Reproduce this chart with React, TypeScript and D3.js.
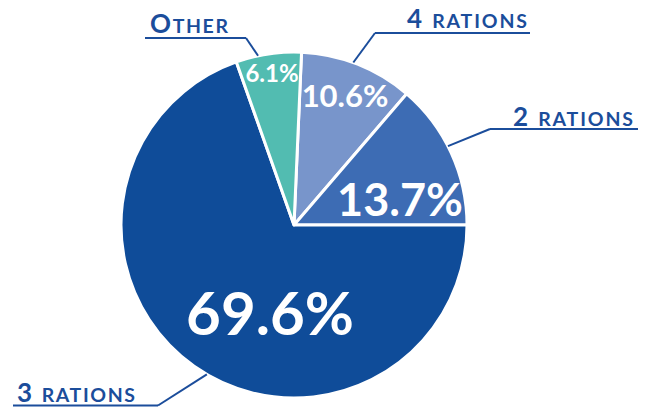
import React, { useRef, useEffect } from 'react'
import * as d3 from 'd3'

// slice order as drawn clockwise from just right of 12 o'clock
const categories = ['4 rations', '2 rations', '3 rations', 'Other']
const values = [10.6, 13.7, 69.6, 6.1]
const colors = ['#7895cb', '#3d6cb4', '#0f4c99', '#52bcb1']

// label layout
const pctLabels = [
  { x: 345, y: 107, size: 31 },
  { x: 400, y: 216, size: 45 },
  { x: 270, y: 335, size: 60 },
  { x: 272, y: 82, size: 24 }
]
const nameLabels = [
  { big: '4 ', small: 'RATIONS', x: 407, y: 28, w: 120, lineX0: 375, lineX1: 530, lineY: 33, at: 0.46 },
  { big: '2 ', small: 'RATIONS', x: 513, y: 126, w: 120, lineX0: 490, lineX1: 638, lineY: 129, at: 0.45 },
  { big: '3 ', small: 'RATIONS', x: 17, y: 402, w: 118, lineX0: 13, lineX1: 158, lineY: 405.5, at: 0.48 },
  { big: 'O', small: 'THER', x: 150, y: 33, w: 78, lineX0: 145, lineX1: 246, lineY: 38, at: 0.34 }
]

export default function App() {
  const chartRef = useRef(null)

  useEffect(() => {
    const width = 649
    const height = 410
    const cx = 294
    const cy = 225
    const radius = 173
    const startAngle = (2.5 * Math.PI) / 180

    const container = d3.select(chartRef.current)
    container.html('')

    const svg = container.append('svg')
      .attr('width', width)
      .attr('height', height)
      .style('display', 'block')
      .style('font-family', 'Lato, "Open Sans", sans-serif')

    const pie = d3.pie<number>()
      .sort(null)
      .value(d => d)
      .startAngle(startAngle)
      .endAngle(startAngle + 2 * Math.PI)

    const arcs = pie(values)
    const arc = d3.arc<d3.PieArcDatum<number>>().innerRadius(0).outerRadius(radius)

    const g = svg.append('g').attr('transform', `translate(${cx},${cy})`)

    g.selectAll('path')
      .data(arcs)
      .enter().append('path')
      .attr('d', arc)
      .attr('fill', (d, i) => colors[i])
      .attr('stroke', '#fff')
      .attr('stroke-width', 3)
      .attr('stroke-linejoin', 'round')

    // percentage labels
    svg.selectAll('text.pct')
      .data(values)
      .enter().append('text')
      .attr('class', 'pct')
      .attr('x', (d, i) => pctLabels[i].x)
      .attr('y', (d, i) => pctLabels[i].y)
      .attr('text-anchor', 'middle')
      .attr('fill', '#fff')
      .attr('font-weight', 700)
      .attr('font-size', (d, i) => pctLabels[i].size)
      .text(d => d.toFixed(1) + '%')

    // category labels with leader lines
    const labelColor = '#1b4d9b'
    arcs.forEach((a, i) => {
      const lab = nameLabels[i]
      const ang = a.startAngle + (a.endAngle - a.startAngle) * lab.at
      const px = cx + radius * Math.sin(ang)
      const py = cy - radius * Math.cos(ang)
      const joinX = lab.lineX0 > px ? lab.lineX0 : lab.lineX1

      svg.append('line')
        .attr('x1', lab.lineX0)
        .attr('y1', lab.lineY)
        .attr('x2', lab.lineX1)
        .attr('y2', lab.lineY)
        .attr('stroke', labelColor)
        .attr('stroke-width', 2.2)
      svg.append('line')
        .attr('x1', joinX)
        .attr('y1', lab.lineY)
        .attr('x2', px)
        .attr('y2', py)
        .attr('stroke', labelColor)
        .attr('stroke-width', 2)

      const t = svg.append('text')
        .attr('x', lab.x)
        .attr('y', lab.y)
        .attr('fill', labelColor)
        .attr('font-weight', 700)
        .attr('textLength', lab.w)
        .attr('lengthAdjust', 'spacing')
      t.append('tspan').attr('font-size', 26).text(lab.big)
      t.append('tspan').attr('font-size', 19.5).text(lab.small)
      t.append('title').text(categories[i])
    })

    return () => {
      svg.remove()
    }
  }, [])

  return (
    <>
      <style>{'html, body { margin: 0; padding: 0; overflow: hidden; }'}</style>
      <div ref={chartRef} style={{ width: '649px', height: '410px' }}></div>
    </>
  )
}
